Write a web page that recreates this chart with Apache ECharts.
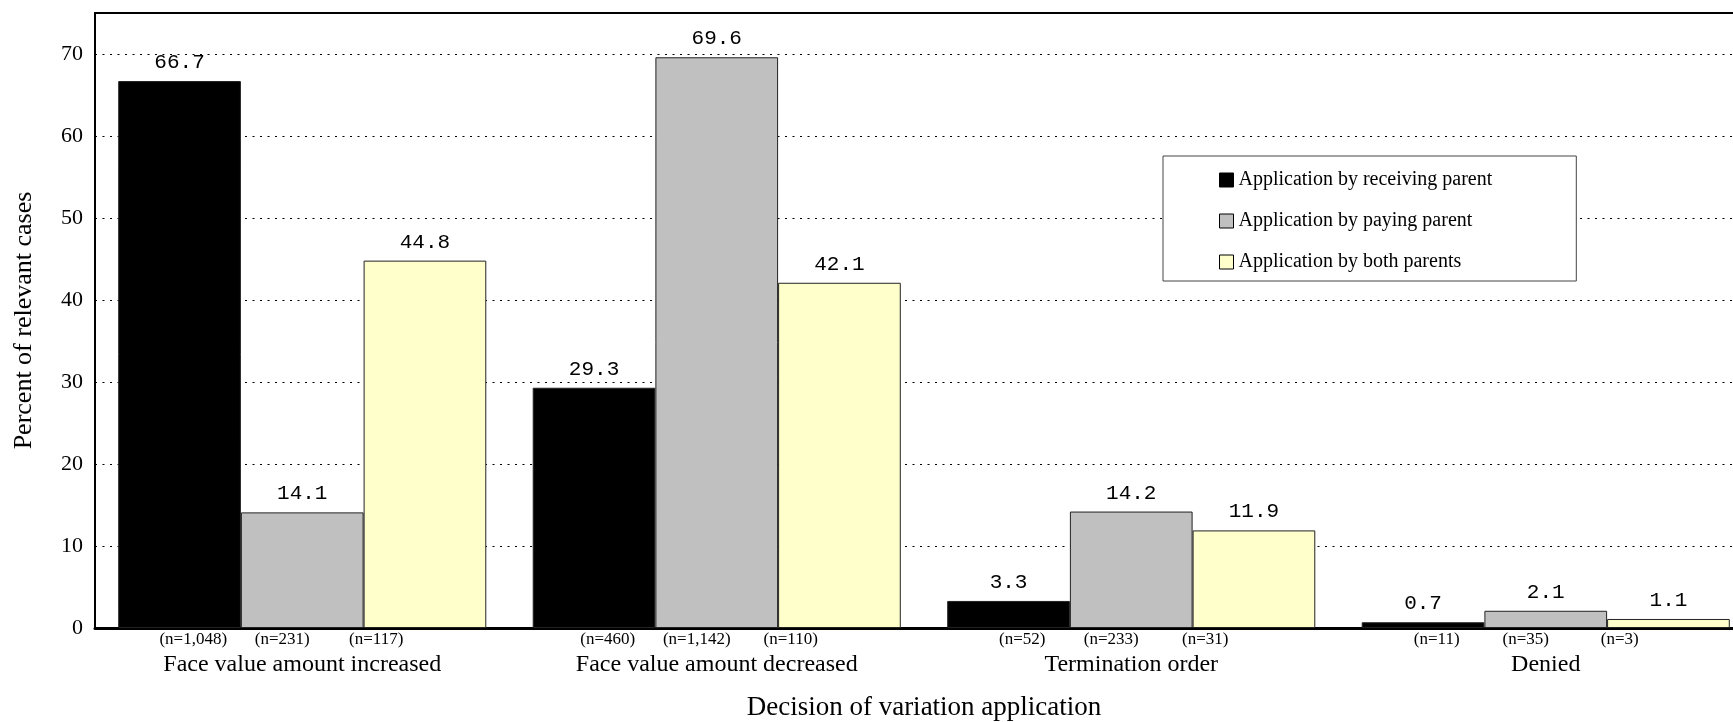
<!DOCTYPE html>
<html><head><meta charset="utf-8">
<script src="https://cdn.jsdelivr.net/npm/echarts@6/dist/echarts.min.js"></script>
<style>html,body{margin:0;padding:0;background:#fff}#c{width:1733px;height:722px}</style>
</head><body><div id="c"></div>
<script>
const categories = ['Face value amount increased', 'Face value amount decreased', 'Termination order', 'Denied'];
const seriesNames = ['Application by receiving parent', 'Application by paying parent', 'Application by both parents'];
const receiving = [66.7, 29.3, 3.3, 0.7];
const paying = [14.1, 69.6, 14.2, 2.1];
const both = [44.8, 42.1, 11.9, 1.1];
const nReceiving = [1048, 460, 52, 11];
const nPaying = [231, 1142, 233, 35];
const nBoth = [117, 110, 31, 3];
const yTicks = [0, 10, 20, 30, 40, 50, 60, 70];

const SERIF = 'Liberation Serif';
const MONO = 'Liberation Mono';
const colors = ['#000000', '#c0c0c0', '#ffffcc'];
const values = [receiving, paying, both];
const fmtN = v => '(n=' + v.toLocaleString('en-US') + ')';

const chart = echarts.init(document.getElementById('c'), null, {renderer: 'canvas'});
chart.setOption({
  backgroundColor: '#fff',
  animation: false,
  grid: {left: 95, width: 1658, top: 13, bottom: 94, outerBoundsMode: 'none', containLabel: false,
    show: true, borderColor: '#000', borderWidth: 2, backgroundColor: 'transparent'},
  legend: {
    orient: 'vertical', left: 1163, top: 156,
    itemWidth: 14, itemHeight: 14, itemGap: 21,
    padding: [14, 84, 9, 56],
    borderColor: '#444', borderWidth: 1, backgroundColor: '#fff',
    icon: 'rect',
    itemStyle: {borderColor: '#000', borderWidth: 1},
    textStyle: {fontFamily: SERIF, fontSize: 20, color: '#000'},
    data: seriesNames
  },
  xAxis: {
    type: 'category', data: categories,
    axisLine: {lineStyle: {color: '#000', width: 3}},
    axisTick: {show: false},
    axisLabel: {
      interval: 0, margin: 2,
      formatter: (v, i) => '{a|' + fmtN(nReceiving[i]) + '}{b|' + fmtN(nPaying[i]) + '}{d|' + fmtN(nBoth[i]) + '}{s|}\n{c|' + v + '}',
      rich: {
        a: {width: 88, align: 'center', fontFamily: SERIF, fontSize: 17, color: '#000', lineHeight: 20},
        b: {width: 90, align: 'center', fontFamily: SERIF, fontSize: 17, color: '#000', lineHeight: 20},
        d: {width: 98, align: 'center', fontFamily: SERIF, fontSize: 17, color: '#000', lineHeight: 20},
        s: {width: 30, lineHeight: 20},
        c: {fontFamily: SERIF, fontSize: 24, color: '#000', lineHeight: 30, align: 'center'}
      }
    },
    name: 'Decision of variation application', nameLocation: 'middle', nameGap: 66,
    nameTextStyle: {fontFamily: SERIF, fontSize: 27, color: '#000'}
  },
  yAxis: {
    type: 'value', min: 0, max: 75, interval: 10,
    axisLine: {show: true, lineStyle: {color: '#000', width: 2}},
    axisTick: {show: false},
    axisLabel: {margin: 12, fontFamily: SERIF, fontSize: 22, color: '#000',
      formatter: v => yTicks.includes(v) ? String(v) : ''},
    splitLine: {show: true, lineStyle: {color: '#000', width: 1, type: [2, 5.5]}},
    name: 'Percent of relevant cases', nameLocation: 'middle', nameGap: 58, nameRotate: 90,
    nameTextStyle: {fontFamily: SERIF, fontSize: 26, color: '#000'}
  },
  series: values.map((d, k) => ({
    type: 'bar', name: seriesNames[k], data: d,
    barGap: '0%', barCategoryGap: '11.2%',
    itemStyle: {color: colors[k], borderColor: '#222', borderWidth: 1},
    label: {show: true, position: 'top', distance: 8, fontFamily: MONO, fontSize: 21, color: '#000',
      formatter: p => p.value.toFixed(1)}
  }))
});
</script></body></html>
